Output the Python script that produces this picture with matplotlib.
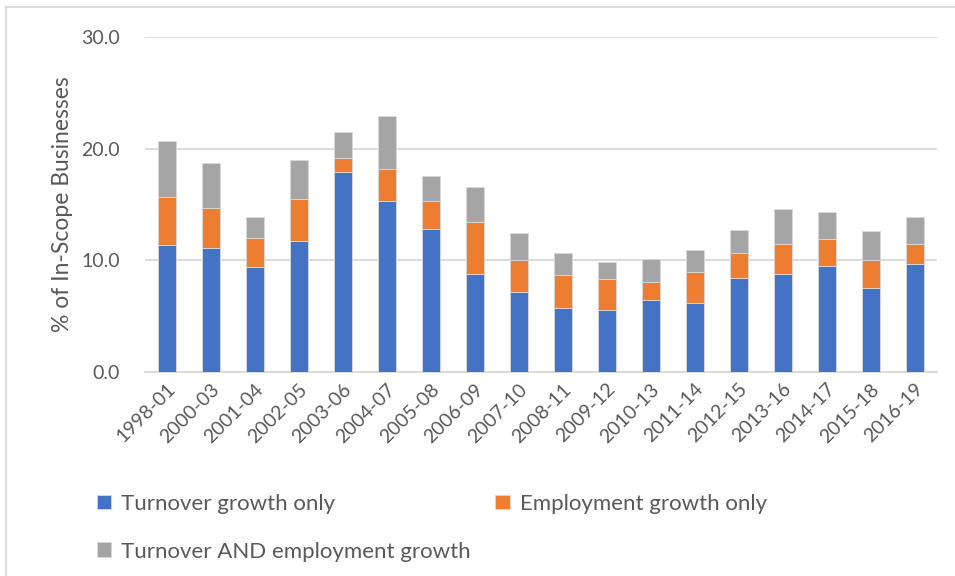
import numpy as np
import matplotlib.pyplot as plt
from matplotlib.lines import Line2D

plt.rcParams['font.family'] = ['Lato', 'DejaVu Sans']

periods = ['1998-01', '2000-03', '2001-04', '2002-05', '2003-06', '2004-07',
           '2005-08', '2006-09', '2007-10', '2008-11', '2009-12', '2010-13',
           '2011-14', '2012-15', '2013-16', '2014-17', '2015-18', '2016-19']
turnover_only = [11.4, 11.1, 9.4, 11.7, 17.9, 15.3, 12.8, 8.8, 7.2,
                 5.7, 5.6, 6.5, 6.2, 8.4, 8.8, 9.5, 7.5, 9.7]
employment_only = [4.3, 3.6, 2.6, 3.8, 1.3, 2.9, 2.5, 4.6, 2.8,
                   3.0, 2.7, 1.6, 2.8, 2.3, 2.7, 2.4, 2.5, 1.8]
both = [5.0, 4.0, 1.9, 3.5, 2.3, 4.7, 2.3, 3.2, 2.5,
        2.0, 1.6, 2.0, 1.9, 2.0, 3.1, 2.4, 2.6, 2.4]

blue = '#4472C4'
orange = '#ED7D31'
grey = '#A5A5A5'
txt = '#595959'

fig = plt.figure(figsize=(9.55, 5.76), dpi=100)
ax = fig.add_axes([0.1518, 0.354, 0.829, 0.5816])

x = np.arange(len(periods))
w = 0.41
b1 = ax.bar(x, turnover_only, w, color=blue, edgecolor='#d9d9d9', linewidth=0.6, zorder=3)
bottom2 = np.array(turnover_only)
b2 = ax.bar(x, employment_only, w, bottom=bottom2, color=orange,
            edgecolor='#d9d9d9', linewidth=0.6, zorder=3)
bottom3 = bottom2 + np.array(employment_only)
b3 = ax.bar(x, both, w, bottom=bottom3, color=grey,
            edgecolor='#d9d9d9', linewidth=0.6, zorder=3)

ax.set_xlim(-0.5, len(periods) - 0.5)
ax.set_ylim(0, 30)
ax.set_yticks([0, 10, 20, 30])
ax.set_yticklabels(['0.0', '10.0', '20.0', '30.0'])
ax.yaxis.grid(True, color='#d9d9d9', linewidth=1.3, zorder=0)
ax.set_axisbelow(True)
for s in ['top', 'right', 'left']:
    ax.spines[s].set_visible(False)
ax.spines['bottom'].set_color('#d9d9d9')
ax.spines['bottom'].set_linewidth(1.3)
ax.tick_params(axis='both', length=0, colors=txt, labelsize=14)
ax.tick_params(axis='y', pad=18)
ax.set_xticks(x)
ax.set_xticklabels(periods, rotation=45, ha='right', rotation_mode='anchor')
ax.tick_params(axis='x', pad=6)
ax.set_ylabel('% of In-Scope Businesses', fontsize=16.5, color=txt, labelpad=6)

# legend: two per row, third on its own line
handles = [b1, b3, b2]
labels = ['Turnover growth only', 'Turnover AND employment growth',
          'Employment growth only']
fig.legend(handles, labels, ncol=2, loc='upper left',
           bbox_to_anchor=(0.092, 0.158), frameon=False,
           fontsize=16, labelcolor=txt, handlelength=0.65, handleheight=0.65,
           handletextpad=0.45, columnspacing=1.1, labelspacing=1.25,
           borderaxespad=0)

# chart area border (top and left)
fig.add_artist(Line2D([6 / 955, 1], [1 - 7 / 576, 1 - 7 / 576],
                      transform=fig.transFigure, color='#d9d9d9', linewidth=1.3))
fig.add_artist(Line2D([6 / 955, 6 / 955], [0, 1 - 7 / 576],
                      transform=fig.transFigure, color='#d9d9d9', linewidth=1.3))

fig.savefig('out.png', dpi=100)
